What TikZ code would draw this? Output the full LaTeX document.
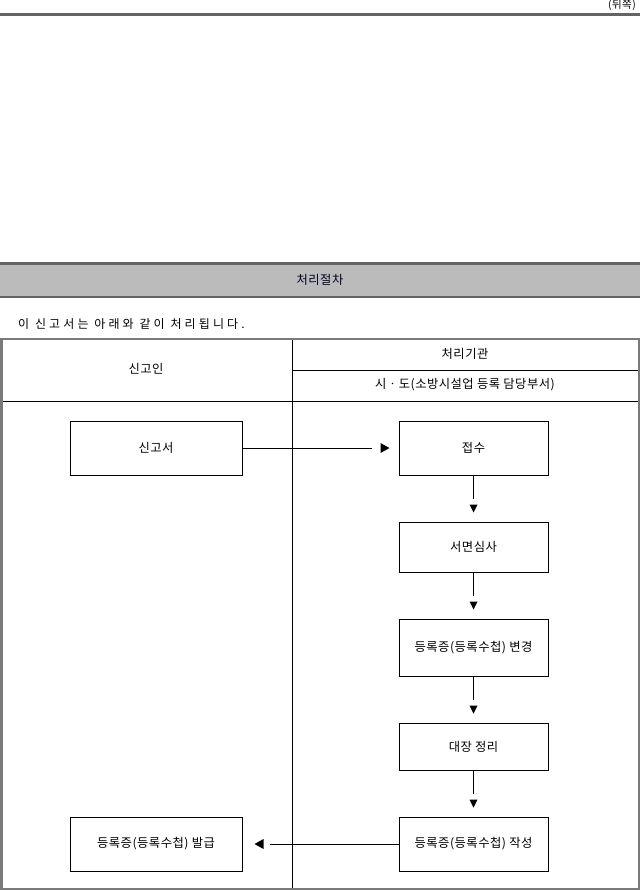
\documentclass[tikz,border=0pt]{standalone}
\usepackage{fontspec}
\setmainfont[LetterSpace=4]{Noto Sans CJK KR}
\newfontfamily\spacedkr[LetterSpace=26]{Noto Sans CJK KR}
\usetikzlibrary{calc}
\definecolor{rulegray}{HTML}{646464}
\definecolor{bandgray}{HTML}{BBBBBB}
\definecolor{framegray}{HTML}{7A7A7A}
\tikzset{
  procbox/.style={draw=black, line width=1pt, inner sep=0pt, font=\fontsize{12.3}{14}\selectfont},
  conn/.style={draw=black, line width=1pt},
  tiphead/.style={fill=black},
  celltext/.style={inner sep=0pt, font=\fontsize{12.3}{14}\selectfont}
}
\begin{document}
\begin{tikzpicture}[x=1pt,y=-1pt]
\useasboundingbox (0,0) rectangle (640,892);
% top
\node[anchor=east, inner sep=0pt, font=\fontsize{10.5}{12}\selectfont] (back) at (636,5) {(뒤쪽)};
\fill[rulegray] (0,12.5) rectangle (640,15.5);
% header band
\fill[bandgray] (0,263) rectangle (640,297);
\fill[rulegray] (0,261.5) rectangle (640,264.5);
\fill[rulegray] (0,296) rectangle (640,298);
\node[celltext, text=black!85!blue] (title) at (320,280) {처리절차};
\node[anchor=west, inner sep=0pt, font=\spacedkr\fontsize{12}{14}\selectfont] (intro) at (18,324) {이 신고서는 아래와 같이 처리됩니다.};
% table
\draw[line width=1pt] (292,339) -- (292,889);
\draw[line width=1pt] (292,370) -- (639,370);
\draw[line width=1pt] (1,401) -- (639,401);
\draw[framegray, line width=2.5pt] (1.25,339) rectangle (638.75,889);
\node[celltext] (applicant) at (146,369) {신고인};
\node[celltext] (agency) at (465,354) {처리기관};
\node[celltext] (dept) at (465,385) {시ㆍ도(소방시설업 등록 담당부서)};
% boxes
\node[procbox, minimum width=172pt, minimum height=54pt] (report) at (156,448) {신고서};
\node[procbox, minimum width=149pt, minimum height=54pt] (receive) at (473.5,448) {접수};
\node[procbox, minimum width=149pt, minimum height=50pt] (review) at (473.5,547) {서면심사};
\node[procbox, minimum width=149pt, minimum height=57pt] (change) at (473.5,647.5) {등록증(등록수첩) 변경};
\node[procbox, minimum width=149pt, minimum height=47pt] (ledger) at (473.5,746.5) {대장 정리};
\node[procbox, minimum width=149pt, minimum height=54pt] (write) at (473.5,844) {등록증(등록수첩) 작성};
\node[procbox, minimum width=172pt, minimum height=54pt] (issue) at (156,844) {등록증(등록수첩) 발급};
% horizontal top connector
\coordinate (h1) at ($(receive.west)+(-27,0)$);
\draw[conn] (report.east) -- (h1);
\fill[tiphead] ($(receive.west)+(-18,-5)$) -- ($(receive.west)+(-9,0)$) -- ($(receive.west)+(-18,5)$) -- cycle;
% vertical connectors
\foreach \a/\b in {receive/review, review/change, change/ledger, ledger/write}{
  \coordinate (v\a) at ($(\a.south)+(0,23)$);
  \draw[conn] (\a.south) -- (v\a);
  \fill[tiphead] ($(\b.north)+(-4,-17)$) -- ($(\b.north)+(4,-17)$) -- ($(\b.north)+(0,-9)$) -- cycle;
}
% bottom connector
\coordinate (h2) at ($(issue.east)+(27,0)$);
\draw[conn] (write.west) -- (h2);
\fill[tiphead] ($(issue.east)+(21,-5)$) -- ($(issue.east)+(12,0)$) -- ($(issue.east)+(21,5)$) -- cycle;
\end{tikzpicture}
\end{document}
